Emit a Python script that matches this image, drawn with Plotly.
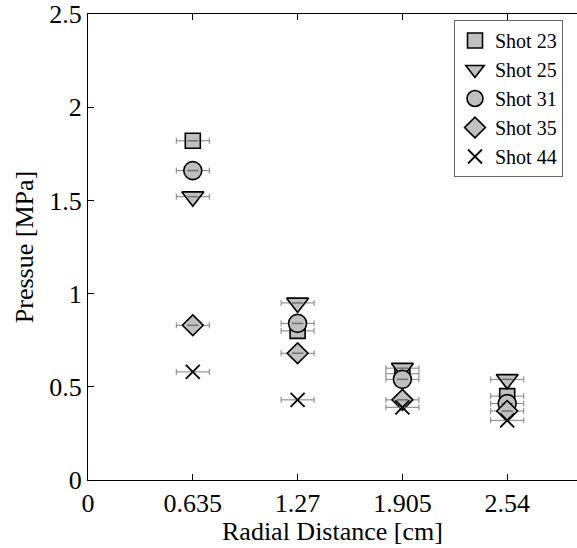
import plotly.graph_objects as go

x_positions = [0.635, 1.27, 1.905, 2.54]
x_err = [0.1, 0.1, 0.1, 0.1]

shot_names = ["Shot 23", "Shot 25", "Shot 31", "Shot 35", "Shot 44"]
shot23 = [1.82, 0.80, 0.57, 0.45]
shot25 = [1.52, 0.95, 0.60, 0.54]
shot31 = [1.66, 0.84, 0.54, 0.41]
shot35 = [0.83, 0.68, 0.43, 0.37]
shot44 = [0.58, 0.43, 0.39, 0.32]

x_tickvals = [0, 0.635, 1.27, 1.905, 2.54]
x_ticktext = ["0", "0.635", "1.27", "1.905", "2.54"]
y_tickvals = [0, 0.5, 1, 1.5, 2, 2.5]
y_ticktext = ["0", "0.5", "1", "1.5", "2", "2.5"]

x_title = "Radial Distance [cm]"
y_title = "Pressue [MPa]"

series = [shot23, shot25, shot31, shot35, shot44]
symbols = ["square", "triangle-down", "circle", "diamond", "x-thin"]
sizes = [15, 19, 18, 16, 14]

fig = go.Figure()
for name, vals, sym, sz in zip(shot_names, series, symbols, sizes):
    if sym == "x-thin":
        marker = dict(symbol=sym, size=sz, color="black",
                      line=dict(color="black", width=1.8))
    else:
        marker = dict(symbol=sym, size=sz, color="#c0c0c0",
                      line=dict(color="black", width=1.6))
    fig.add_trace(go.Scatter(
        x=x_positions, y=vals, mode="markers", name=name,
        marker=marker,
        error_x=dict(type="data", array=x_err, color="#808080",
                     thickness=1, width=3),
    ))
    if sym != "x-thin":
        # error-bar line segment visible through the marker face
        fig.add_trace(go.Scatter(
            x=x_positions, y=vals, mode="markers", showlegend=False,
            hoverinfo="skip",
            marker=dict(symbol="line-ew", size=8,
                        line=dict(color="#707070", width=1.5)),
        ))

font_family = "Times New Roman, Liberation Serif, serif"
tick_fs = 26
title_fs = 26
legend_fs = 20

L, T, B = 88, 14, 68
H = 548
plot_h = H - T - B

fig.update_layout(
    width=577, height=548,
    margin=dict(l=L, r=0, t=T, b=B),
    paper_bgcolor="white", plot_bgcolor="white",
    font=dict(family=font_family, size=tick_fs, color="black"),
    showlegend=True,
    legend=dict(x=(454 - L) / (577 - L), y=(H - B - 20) / plot_h,
                xanchor="left", yanchor="top",
                bgcolor="white", bordercolor="#666666", borderwidth=1,
                font=dict(family=font_family, size=legend_fs, color="black"),
                itemsizing="trace", tracegroupgap=0),
    xaxis=dict(range=[0, 2.963], tickvals=x_tickvals, ticktext=x_ticktext,
               showline=True, linecolor="black", linewidth=1,
               mirror="ticks", ticks="inside", ticklen=6, tickcolor="black",
               showgrid=False, zeroline=False, automargin=False,
               ticklabeloverflow="allow",
               tickfont=dict(family=font_family, size=tick_fs)),
    yaxis=dict(range=[0, 2.5], tickvals=y_tickvals, ticktext=y_ticktext,
               showline=True, linecolor="black", linewidth=1,
               mirror=False, ticks="inside", ticklen=6, tickcolor="black",
               showgrid=False, zeroline=False, automargin=False,
               ticklabeloverflow="allow",
               title=dict(text=y_title, standoff=8,
                          font=dict(family=font_family, size=title_fs)),
               tickfont=dict(family=font_family, size=tick_fs)),
    annotations=[dict(text=x_title, xref="paper", yref="paper",
                      x=0.5, y=(H - B - 531) / plot_h,
                      xanchor="center", yanchor="middle", showarrow=False,
                      font=dict(family=font_family, size=title_fs, color="black"))],
)

fig.write_html("out.html", config={"displayModeBar": False},
               post_script="document.body.style.margin='0';")
